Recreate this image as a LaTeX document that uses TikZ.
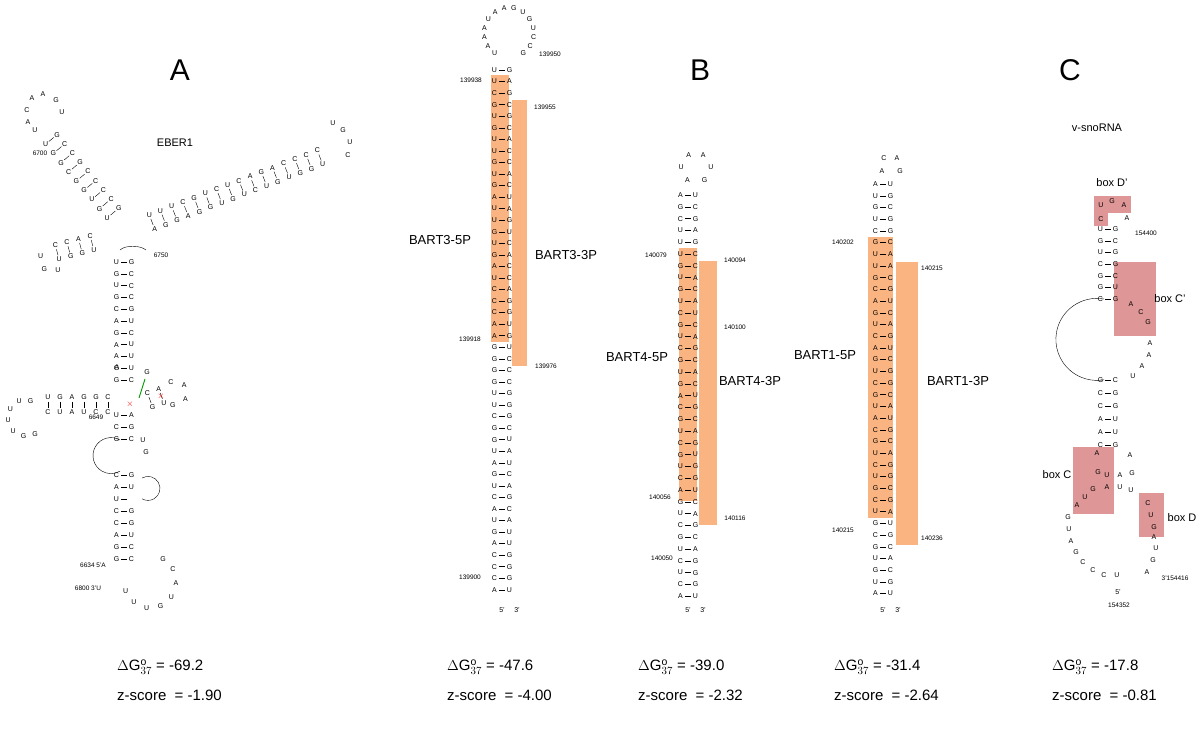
\documentclass[tikz,border=0pt]{standalone}
\usepackage{fontspec}
\setmainfont{Liberation Sans}
\usetikzlibrary{calc}
\definecolor{orng}{RGB}{250,180,130}
\definecolor{pinkb}{RGB}{222,150,150}
\tikzset{nt/.style={inner sep=0pt,font=\fontsize{7}{7}\selectfont},
 num/.style={inner sep=0pt,font=\fontsize{6.5}{7}\selectfont},
 lab/.style={inner sep=0pt,font=\fontsize{13}{14}\selectfont},
 ttl/.style={inner sep=0pt,font=\fontsize{30}{30}\selectfont},
 en/.style={inner sep=0pt,anchor=west,font=\fontsize{15}{16}\selectfont},
 pl/.style={line width=0.4pt}}
% stem: x, y, angle, spacing, list of pairs
\newcommand\rstem[5]{\begin{scope}[shift={(#1,#2)},rotate=#3]
 \foreach \l/\r [count=\i] in {#5} {
  \node[nt] at ({(\i-1)*#4},7.5) {\l};
  \node[nt] at ({(\i-1)*#4},-7.5) {\r};
  \draw[pl] ({(\i-1)*#4},3.2)--({(\i-1)*#4},-3.2);}
 \end{scope}}
% loop: cx, cy, r, a1, a2, n, letters
\newcommand\rloop[7]{\foreach \l [count=\i] in {#7} {
  \pgfmathsetmacro\ang{#4+(\i-1)*(#5-#4)/(#6-1)}
  \node[nt] at ({#1+#3*cos(\ang)},{#2-#3*sin(\ang)}) {\l};}}
\begin{document}
\begin{tikzpicture}[x=1pt,y=-1pt]
\useasboundingbox (0,0) rectangle (1200,739);
% ---------- titles
\node[ttl] (tA) at (180,70) {A};
\node[ttl] (tB) at (700,70) {B};
\node[ttl] (tC) at (1070,70) {C};
\node[lab,font=\fontsize{11}{12}\selectfont] (eber) at (175,143) {EBER1};
\node[lab,font=\fontsize{11}{12}\selectfont] (vsno) at (1097,128) {v-snoRNA};
% ---------- orange boxes (B)
\fill[orng] (491,75) rectangle (509,342);
\fill[orng] (512,100) rectangle (527,366);
\fill[orng] (679,248) rectangle (697,501);
\fill[orng] (699,261) rectangle (717,525);
\fill[orng] (868,237) rectangle (893,518);
\fill[orng] (896,262) rectangle (918,545);
% ---------- pink boxes (C)
\fill[pinkb] (1094,196) rectangle (1131,213);
\fill[pinkb] (1094,213) rectangle (1108,226);
\fill[pinkb] (1114,262) rectangle (1156,336);
\fill[pinkb] (1073,447) rectangle (1114,514);
\fill[pinkb] (1139,493) rectangle (1164,537);
% ---------- EBER1
\rstem{124}{262}{-90}{11.8}{U/G,G/C,U/C,G/C,C/G,A/U,G/C,A/U,A/U,G/U,G/C}
\rstem{124}{415}{-90}{12}{U/A,C/G,G/C}
\rstem{124}{475}{-90}{12}{C/G,A/U,U/{},C/G,C/G,A/U,G/C,G/C}
\draw[pl] (120,440) arc[start angle=-60,end angle=-300,radius=18];
\draw[pl] (142,478) arc[start angle=-120,end angle=120,radius=12];
\node[nt] at (143,440) {U}; \node[nt] at (146,452) {G};
\rstem{113}{213}{130}{12}{G/U,C/G,C/U,C/G,C/G,G/C,C/G,C/G,G/U}
\node[nt] at (35,130) {U};
\node[nt] at (28,122) {A}; \node[nt] at (27,110) {C}; \node[nt] at (32,98) {A};
\node[nt] at (43,94) {A}; \node[nt] at (56,100) {G}; \node[nt] at (62,112) {U};
\rstem{152}{222}{21}{12}{A/U,G/U,G/U,A/C,G/G,G/U,U/C,G/U,U/C,C/A,U/G,G/A,U/C,G/C,G/C,U/C}
\node[nt] at (333,123) {U}; \node[nt] at (343,130) {G}; \node[nt] at (350,142) {U}; \node[nt] at (348,155) {C};
\rstem{92}{243}{195}{12}{C/U,A/G,C/G,C/U}
\rloop{52}{260}{12}{160}{300}{3}{U,G,U}
\rstem{108}{405}{180}{12}{C/C,G/C,G/U,A/A,G/U,U/C}
\rloop{26}{418}{18}{75}{300}{7}{G,U,U,U,U,G,G}
\rstem{150}{400}{20}{12}{G/C,U/A}
\rloop{175}{393}{12}{110}{-100}{4}{C,A,A,G}
\node[nt] at (117,367) {A}; \node[nt] at (147,372) {G};
\draw[green!60!black,line width=0.9pt] (145,379)--(139,398);
\node[red,font=\fontsize{9}{9}\selectfont,inner sep=0] at (130,404) {$\times$};
\node[red,font=\fontsize{9}{9}\selectfont,inner sep=0] at (161,396) {$\times$};
\draw[pl] (120,250)..controls (125,245) and (140,245)..(146,250);
\rloop{150}{582}{26}{60}{-160}{8}{G,C,A,U,G,U,U,U}
\node[num] at (40,153) {6700};
\node[num] at (161,255) {6750};
\node[num] at (96,417) {6649};
\node[num] at (93,565) {6634 5'A};
\node[num] at (88,588) {6800 3'U};
% ---------- BART3
\rloop{509}{33}{25}{235}{-55}{14}{U,A,A,A,U,A,A,G,U,G,U,C,C,G}
\rstem{502}{70}{-90}{11.55}{U/G,U/A,C/G,G/C,U/G,G/C,U/A,U/C,G/C,U/A,G/C,A/U,U/A,U/G,G/U,U/C,G/A,A/C,U/C,C/A,C/G,C/G,A/U,A/G,G/U,G/C,G/C,G/C,U/G,U/G,C/G,G/C,G/U,U/A,A/U,G/C,U/A,C/G,A/C,U/A,G/U,A/U,C/G,C/G,C/G,A/U}
\node[num] at (471,80) {139938}; \node[num] at (550,54) {139950};
\node[num] at (545,107) {139955};
\node[num] at (470,339) {139918}; \node[num] at (546,366) {139976};
\node[num] at (470,577) {139900};
\node[nt] at (502,610) {5'}; \node[nt] at (517,610) {3'};
\node[lab] (b3l) at (440,240) {BART3-5P};
\node[lab] (b3r) at (566,255) {BART3-3P};
% ---------- BART4
\rloop{696}{168}{15}{235}{-55}{6}{A,U,A,A,U,G}
\rstem{688}{195}{-90}{11.8}{A/U,G/C,C/G,U/A,U/G,U/C,G/C,U/A,G/C,U/A,C/U,G/C,U/A,C/G,G/C,U/A,G/C,A/U,C/G,G/C,U/A,C/G,G/U,U/G,C/G,A/U,G/C,U/A,C/G,G/C,U/A,C/G,U/G,C/G,A/U}
\node[num] at (656,255) {140079}; \node[num] at (735,260) {140094};
\node[num] at (735,327) {140100}; \node[num] at (660,497) {140056};
\node[num] at (735,518) {140116}; \node[num] at (662,558) {140050};
\node[nt] at (688,610) {5'}; \node[nt] at (703,610) {3'};
\node[lab] (b4l) at (637,357) {BART4-5P};
\node[lab] (b4r) at (750,381) {BART4-3P};
% ---------- BART1
\node[nt] at (884,158) {C}; \node[nt] at (897,158) {A};
\node[nt] at (882,171) {A}; \node[nt] at (900,171) {G};
\rstem{883}{184}{-90}{11.7}{A/U,U/G,G/C,U/G,C/G,G/C,U/A,U/A,G/C,C/G,A/U,G/C,U/A,C/G,A/U,G/C,U/G,C/G,G/C,U/A,A/U,C/G,G/C,U/A,C/G,U/G,G/C,C/G,U/A,G/U,C/G,G/C,U/A,G/C,U/G,A/U}
\node[num] at (843,242) {140202}; \node[num] at (932,268) {140215};
\node[num] at (843,530) {140215}; \node[num] at (932,538) {140236};
\node[nt] at (883,610) {5'}; \node[nt] at (898,610) {3'};
\node[lab] (b1l) at (825,355) {BART1-5P};
\node[lab] (b1r) at (958,381) {BART1-3P};
% ---------- v-snoRNA
\node[nt] at (1101,205) {U}; \node[nt] at (1112,201) {G}; \node[nt] at (1124,205) {A};
\node[nt] at (1101,219) {C}; \node[nt] at (1127,218) {A};
\rstem{1108}{229}{-90}{11.7}{U/G,G/C,U/G,C/G,G/C,G/U,C/G}
\node[nt] at (1131,304) {A}; \node[nt] at (1141,312) {C}; \node[nt] at (1148,322) {G};
\node[nt] at (1150,343) {A}; \node[nt] at (1149,355) {A}; \node[nt] at (1142,366) {A}; \node[nt] at (1133,376) {U};
\draw[pl] (1104,299) arc[start angle=-80,end angle=-280,radius=41];
\rstem{1108}{380}{-90}{13}{G/C,C/G,C/G,A/U,A/U,C/G}
\node[nt] at (1097,453) {A}; \node[nt] at (1130,455) {A};
\node[nt] at (1098,472) {G}; \node[nt] at (1132,473) {G};
\node[nt] at (1107,475) {U}; \node[nt] at (1120,475) {A};
\node[nt] at (1107,487) {A}; \node[nt] at (1120,487) {U}; \node[nt] at (1131,490) {U};
\node[nt] at (1093,489) {G}; \node[nt] at (1085,497) {U}; \node[nt] at (1077,505) {A};
\node[nt] at (1148,503) {C}; \node[nt] at (1151,515) {U}; \node[nt] at (1154,527) {G}; \node[nt] at (1154,537) {A};
\node[nt] at (1156,548) {U}; \node[nt] at (1153,560) {G}; \node[nt] at (1147,572) {A};
\node[nt] at (1068,517) {G}; \node[nt] at (1069,529) {U}; \node[nt] at (1071,541) {A};
\node[nt] at (1076,552) {G}; \node[nt] at (1083,562) {C}; \node[nt] at (1093,570) {C}; \node[nt] at (1104,575) {C}; \node[nt] at (1117,575) {U};
\node[nt] at (1118,592) {5'}; \node[num] at (1119,605) {154352};
\node[num] at (1175,578) {3'154416}; \node[num] at (1146,233) {154400};
\node[lab,font=\fontsize{11}{12}\selectfont] at (1112,183) {box D'};
\node[lab,font=\fontsize{11}{12}\selectfont] at (1170,299) {box C'};
\node[lab,font=\fontsize{11}{12}\selectfont] at (1057,475) {box C};
\node[lab,font=\fontsize{11}{12}\selectfont] at (1182,518) {box D};
% ---------- energies
\node[en] at (117,667) {$\Delta$G$^{\mathrm{o}}_{37}$ = -69.2};
\node[en] at (117,695) {z-score\ \ = -1.90};
\node[en] at (447,667) {$\Delta$G$^{\mathrm{o}}_{37}$ = -47.6};
\node[en] at (447,695) {z-score\ \ = -4.00};
\node[en] at (638,667) {$\Delta$G$^{\mathrm{o}}_{37}$ = -39.0};
\node[en] at (638,695) {z-score\ \ = -2.32};
\node[en] at (834,667) {$\Delta$G$^{\mathrm{o}}_{37}$ = -31.4};
\node[en] at (834,695) {z-score\ \ = -2.64};
\node[en] at (1052,667) {$\Delta$G$^{\mathrm{o}}_{37}$ = -17.8};
\node[en] at (1052,695) {z-score\ \ = -0.81};
\end{tikzpicture}
\end{document}
